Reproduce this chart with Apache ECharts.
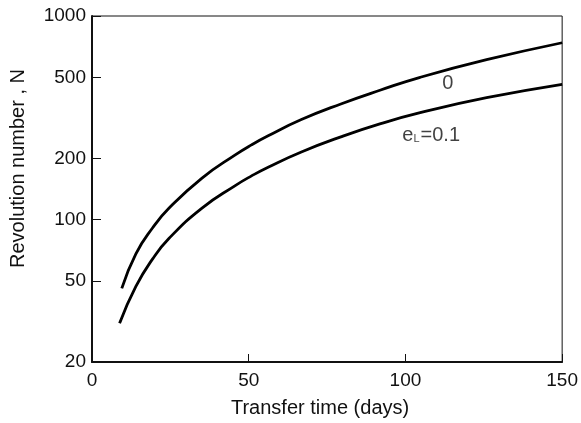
<!DOCTYPE html>
<html>
<head>
<meta charset="utf-8">
<script src="https://cdn.jsdelivr.net/npm/echarts@6/dist/echarts.min.js"></script>
<style>html,body{margin:0;padding:0;background:#fff}#c{width:581px;height:423px}</style>
</head>
<body>
<div id="c"></div>
<script>
// Data
var daysUpper = [9.5, 14, 19.3, 24.6, 35.1, 45.7, 50.9, 56.2, 66.8, 79.4, 92.1, 104.7, 125.9, 150];
var nUpper    = [46, 68, 91, 114, 160, 208, 233, 258, 310, 370, 433, 500, 610, 739];
var daysLower = [8.8, 14, 19.3, 24.6, 35.1, 45.7, 50.9, 56.2, 66.8, 79.4, 92.1, 104.7, 125.9, 150];
var nLower    = [31, 47, 64, 81, 114, 147, 164, 181, 215, 255, 296, 335, 397, 462];
var xTicks = [0, 50, 100, 150];
var yTicks = [20, 50, 100, 200, 500, 1000];
var labelUpper = {x: 113.5, y: 467, text: '0'};
var labelLower = {x: 99, y: 260};

function pairs(xs, ys) { return xs.map(function (x, i) { return [x, ys[i]]; }); }

var font = 'Liberation Sans';
var chart = echarts.init(document.getElementById('c'));
chart.setOption({
  backgroundColor: '#fff',
  animation: false,
  grid: {left: 89, right: 18, top: 16, bottom: 61, show: true, borderColor: '#111', borderWidth: 1},
  xAxis: {
    type: 'value', min: 0, max: 150, interval: 50,
    name: 'Transfer time (days)', nameLocation: 'middle', nameGap: 36,
    nameTextStyle: {fontFamily: font, fontSize: 20, color: '#111', padding: [0, 14, 0, 0]},
    axisLine: {show: true, lineStyle: {color: '#111', width: 2}},
    axisTick: {show: true, inside: true, length: 8, lineStyle: {color: '#111', width: 1}},
    axisLabel: {fontFamily: font, fontSize: 19, color: '#111', margin: 9,
      customValues: xTicks},
    splitLine: {show: false}
  },
  yAxis: {
    type: 'log', logBase: 10, min: 20, max: 1000,
    name: 'Revolution number , N', nameLocation: 'middle', nameGap: 64,
    nameTextStyle: {fontFamily: font, fontSize: 20, color: '#111', padding: [0, 0, 0, 41]},
    axisLine: {show: true, lineStyle: {color: '#111', width: 2}},
    axisTick: {show: true, inside: true, length: 9, lineStyle: {color: '#111', width: 1},
      customValues: yTicks},
    axisLabel: {fontFamily: font, fontSize: 19, color: '#111', margin: 6,
      customValues: yTicks, formatter: function (v) { return String(Math.round(v)); }},
    splitLine: {show: false},
    minorTick: {show: false}
  },
  series: [
    {type: 'line', data: pairs(daysUpper, nUpper), smooth: 0.5, showSymbol: false,
     lineStyle: {color: '#000', width: 2.8}},
    {type: 'line', data: pairs(daysLower, nLower), smooth: 0.5, showSymbol: false,
     lineStyle: {color: '#000', width: 2.8}},
    {type: 'scatter', symbolSize: 0, silent: true,
     data: [{value: [labelUpper.x, labelUpper.y],
             label: {show: true, position: 'inside', formatter: labelUpper.text,
                     fontFamily: font, fontSize: 20, color: '#111'}},
            {value: [labelLower.x, labelLower.y],
             label: {show: true, position: 'right', distance: 0,
                     formatter: '{e|e}{s|L}{e|=0.1}',
                     rich: {e: {fontFamily: font, fontSize: 20, color: '#111'},
                            s: {fontFamily: font, fontSize: 11, color: '#111', padding: [8, 1, 0, 0]}}}}]}
  ]
});
</script>
</body>
</html>
